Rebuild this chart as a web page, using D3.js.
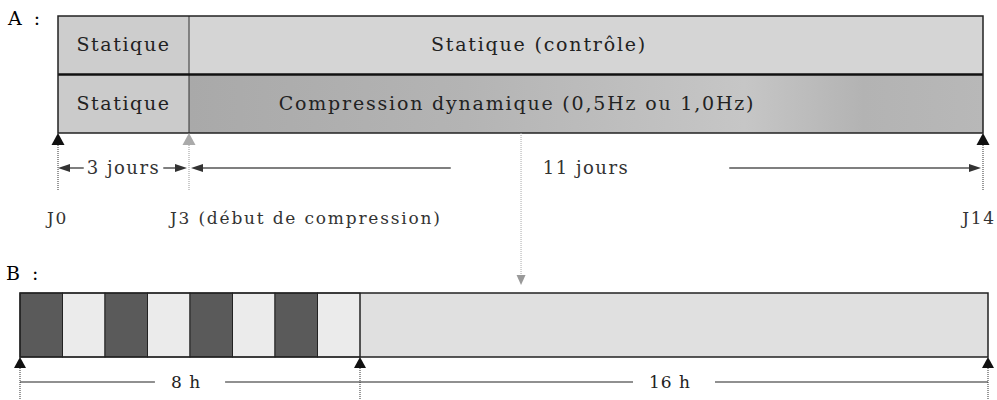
<html>

<head>
    <meta charset="utf-8">
    <script src="https://d3js.org/d3.v7.min.js"></script>
</head>

<body style="margin:0;background:white">
    <svg></svg>
    <script>
        // panel A : days
        const days = [0, 3, 14]
        const dayLabels = ["J0", "J3 (début de compression)", "J14"]
        const leftLabels = ["Statique", "Statique"]
        const rightLabels = ["Statique (contrôle)", "Compression dynamique (0,5Hz ou 1,0Hz)"]
        const spanLabels = ["3 jours", "11 jours"]
        const zoomDay = 7.6

        // panel B : one day in hours
        const phases = ["charge", "repos", "charge", "repos", "charge", "repos", "charge", "repos"]
        const hours = [0, 8, 24]
        const hourLabels = ["8 h", "16 h"]

        const width = 997
        const height = 400
        const font = "'DejaVu Serif', 'Liberation Serif', serif"

        // schematic (not proportional) scales
        const xA = d3.scaleLinear().domain(days).range([58, 189, 983])
        const xB = d3.scaleLinear().domain(hours).range([20, 360, 988])
        const rowA = d3.scaleBand().domain([0, 1]).range([16, 133])

        const svg = d3.select("svg")
            .attr("width", width)
            .attr("height", height)
            .attr("viewBox", [0, 0, width, height])
            .style("display", "block")

        const defs = svg.append("defs")
        const grad = defs.append("linearGradient").attr("id", "dyn")
        grad.selectAll("stop")
            .data([[0, "#a9a9a9"], [0.35, "#b4b4b4"], [0.7, "#c6c6c6"], [0.85, "#b3b3b3"], [1, "#b8b8b8"]])
            .join("stop")
            .attr("offset", d => d[0])
            .attr("stop-color", d => d[1])

        function tri(g, x, y, dir, w, h, fill) {
            // dir: "up", "down", "left", "right" ; (x,y) is the tip
            let p
            if (dir == "up") p = [[x, y], [x - w / 2, y + h], [x + w / 2, y + h]]
            if (dir == "down") p = [[x, y], [x - w / 2, y - h], [x + w / 2, y - h]]
            if (dir == "left") p = [[x, y], [x + w, y - h / 2], [x + w, y + h / 2]]
            if (dir == "right") p = [[x, y], [x - w, y - h / 2], [x - w, y + h / 2]]
            g.append("path").attr("d", "M" + p.join("L") + "Z").attr("fill", fill)
        }

        // ---------- A ----------
        svg.append("text").attr("x", 8).attr("y", 25)
            .attr("font-family", font).attr("font-size", 19).attr("letter-spacing", 3).text("A :")

        const gA = svg.append("g")
        const cellFill = [["#cdcdcd", "#d5d5d5"], ["#cbcbcb", "url(#dyn)"]]
        rowA.domain().forEach(r => {
            gA.append("rect").attr("x", xA(days[0])).attr("y", rowA(r))
                .attr("width", xA(days[1]) - xA(days[0])).attr("height", rowA.bandwidth())
                .attr("fill", cellFill[r][0])
            gA.append("rect").attr("x", xA(days[1])).attr("y", rowA(r))
                .attr("width", xA(days[2]) - xA(days[1])).attr("height", rowA.bandwidth())
                .attr("fill", cellFill[r][1])
            gA.append("text").attr("x", (xA(days[0]) + xA(days[1])) / 2).attr("y", rowA(r) + rowA.bandwidth() / 2 + 6)
                .attr("text-anchor", "middle").attr("font-family", font).attr("font-size", 19)
                .attr("letter-spacing", 1.6).attr("fill", "#222").text(leftLabels[r])
            gA.append("text").attr("x", r == 0 ? 539 : 517).attr("y", rowA(r) + rowA.bandwidth() / 2 + 6)
                .attr("text-anchor", "middle").attr("font-family", font).attr("font-size", 19)
                .attr("letter-spacing", 1.8).attr("fill", "#222").text(rightLabels[r])
        })
        gA.append("line").attr("x1", xA(days[1])).attr("x2", xA(days[1]))
            .attr("y1", rowA(0)).attr("y2", rowA(1) + rowA.bandwidth())
            .attr("stroke", "#333").attr("stroke-width", 1)
        gA.append("line").attr("x1", xA(days[0])).attr("x2", xA(days[2]))
            .attr("y1", rowA(1)).attr("y2", rowA(1))
            .attr("stroke", "#111").attr("stroke-width", 2.5)
        gA.append("rect").attr("x", xA(days[0])).attr("y", rowA(0))
            .attr("width", xA(days[2]) - xA(days[0])).attr("height", rowA.bandwidth() * 2)
            .attr("fill", "none").attr("stroke", "#222").attr("stroke-width", 1.5)

        // pointer from the compression period down to panel B
        const boxBottom = rowA(1) + rowA.bandwidth()
        gA.append("line").attr("x1", xA(zoomDay)).attr("x2", xA(zoomDay))
            .attr("y1", boxBottom).attr("y2", 276)
            .attr("stroke", "#aaa").attr("stroke-dasharray", "1,1")
        tri(gA, xA(zoomDay), 285, "down", 9, 10, "#999")

        // day marks
        days.forEach((d, i) => {
            const c = i == 1 ? "#aaa" : "#111"
            tri(gA, xA(d), boxBottom, "up", 13, 12, c)
            gA.append("line").attr("x1", xA(d)).attr("x2", xA(d))
                .attr("y1", boxBottom + 12).attr("y2", 190)
                .attr("stroke", i == 1 ? "#bbb" : "#777").attr("stroke-dasharray", "1,1")
                .attr("stroke-width", 1.5)
            gA.append("text").attr("x", i == 2 ? 996 : xA(d) - (i == 0 ? 11 : 19)).attr("y", 224)
                .attr("text-anchor", i == 2 ? "end" : "start")
                .attr("font-family", font).attr("font-size", 17).attr("letter-spacing", 1.8)
                .attr("fill", "#333").text(dayLabels[i])
        })

        // spans with arrows
        const gapPad = [3, 100]
        const arrowY = 168
        spanLabels.forEach((lab, i) => {
            const a = xA(days[i]), b = xA(days[i + 1])
            const mid = (a + b) / 2
            const t = gA.append("text").attr("x", mid).attr("y", arrowY + 6)
                .attr("text-anchor", "middle").attr("font-family", font).attr("font-size", 18)
                .attr("letter-spacing", 1.5).attr("fill", "#333").text(lab)
            const half = t.node().getComputedTextLength() / 2 + gapPad[i]
            const x0 = a + (i == 1 ? 2 : 0), x1 = b - 2
            gA.append("line").attr("x1", x0 + 10).attr("x2", mid - half + (i == 1 ? 8 : 0)).attr("y1", arrowY).attr("y2", arrowY)
                .attr("stroke", "#555").attr("stroke-width", 1.5)
            gA.append("line").attr("x1", mid + half).attr("x2", x1 - 10).attr("y1", arrowY).attr("y2", arrowY)
                .attr("stroke", "#555").attr("stroke-width", 1.5)
            tri(gA, x0, arrowY, "left", 12, 8, "#333")
            tri(gA, x1, arrowY, "right", 12, 8, "#333")
        })

        // ---------- B ----------
        svg.append("text").attr("x", 6).attr("y", 280)
            .attr("font-family", font).attr("font-size", 19).attr("letter-spacing", 3).text("B :")

        const gB = svg.append("g")
        const yB0 = 293, yB1 = 357
        gB.append("rect").attr("x", xB(hours[1])).attr("y", yB0)
            .attr("width", xB(hours[2]) - xB(hours[1])).attr("height", yB1 - yB0)
            .attr("fill", "#e0e0e0")
        gB.selectAll("rect.phase")
            .data(phases)
            .join("rect")
            .attr("class", "phase")
            .attr("x", (d, i) => xB(i))
            .attr("y", yB0)
            .attr("width", (d, i) => xB(i + 1) - xB(i))
            .attr("height", yB1 - yB0)
            .attr("fill", d => d == "charge" ? "#5a5a5a" : "#ebebeb")
            .attr("stroke", "#222")
            .attr("stroke-width", 1)
        gB.append("line").attr("x1", xB(hours[1])).attr("x2", xB(hours[1]))
            .attr("y1", yB0).attr("y2", yB1).attr("stroke", "#222")
        gB.append("rect").attr("x", xB(hours[0])).attr("y", yB0)
            .attr("width", xB(hours[2]) - xB(hours[0])).attr("height", yB1 - yB0)
            .attr("fill", "none").attr("stroke", "#222").attr("stroke-width", 1.5)

        hours.forEach(h => {
            tri(gB, xB(h), yB1, "up", 12, 11, "#111")
            gB.append("line").attr("x1", xB(h)).attr("x2", xB(h))
                .attr("y1", yB1 + 11).attr("y2", height)
                .attr("stroke", "#777").attr("stroke-dasharray", "1,1").attr("stroke-width", 1.5)
        })
        const dimY = 382
        hourLabels.forEach((lab, i) => {
            const a = xB(hours[i]), b = xB(hours[i + 1])
            const mid = (a + b) / 2
            const t = gB.append("text").attr("x", mid - 4).attr("y", dimY + 6)
                .attr("text-anchor", "middle").attr("font-family", font).attr("font-size", 17)
                .attr("letter-spacing", 1).attr("fill", "#222").text(lab)
            const half = t.node().getComputedTextLength() / 2 + 20
            gB.append("line").attr("x1", a).attr("x2", mid - half).attr("y1", dimY).attr("y2", dimY)
                .attr("stroke", "#222").attr("stroke-width", 1.2)
            gB.append("line").attr("x1", mid + half).attr("x2", b).attr("y1", dimY).attr("y2", dimY)
                .attr("stroke", "#222").attr("stroke-width", 1.2)
        })
    </script>
</body>

</html>
